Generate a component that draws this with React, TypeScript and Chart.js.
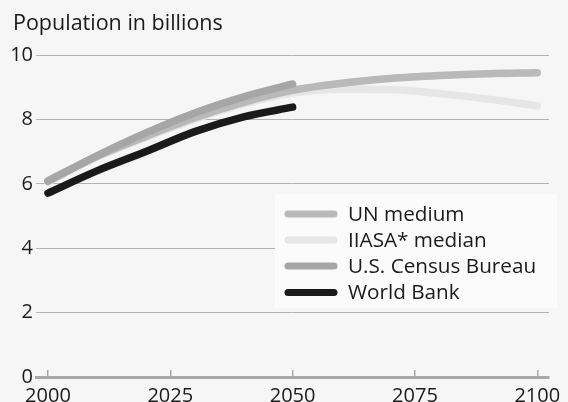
import React, { useEffect, useRef } from "react";
import { Chart, registerables } from "chart.js";

Chart.register(...registerables);

const titleText = "Population in billions";
const yearsLong = [2000, 2010, 2020, 2030, 2040, 2050, 2060, 2070, 2080, 2090, 2100];
const yearsShort = [2000, 2010, 2020, 2030, 2040, 2050];
const xTickValues = [2000, 2025, 2050, 2075, 2100];

const seriesNames = ["UN medium", "IIASA* median", "U.S. Census Bureau", "World Bank"];
const unMedium = [6.1, 6.85, 7.47, 8.05, 8.53, 8.9, 9.12, 9.27, 9.36, 9.42, 9.45];
const iiasaMedian = [6.06, 6.82, 7.44, 8.0, 8.48, 8.82, 8.94, 8.93, 8.8, 8.63, 8.42];
const usCensus = [6.08, 6.87, 7.58, 8.2, 8.7, 9.1];
const worldBank = [5.71, 6.4, 7.0, 7.62, 8.08, 8.38];

const seriesColors = ["#b9b9b9", "#e6e6e6", "#a6a6a6", "#1a1a1a"];

const FONT = "'Open Sans', 'DejaVu Sans', sans-serif";

const toPoints = (xs: number[], ys: number[]) => xs.map((x, i) => ({ x, y: ys[i] }));

export default function App() {
  const ref = useRef<HTMLCanvasElement | null>(null);

  useEffect(() => {
    if (!ref.current) return;

    const decorPlugin = {
      id: "decor",
      afterDraw(chart: any) {
        const ctx = chart.ctx as CanvasRenderingContext2D;
        ctx.save();
        // title
        ctx.fillStyle = "#1a1a1a";
        ctx.font = `21.5px ${FONT}`;
        ctx.textBaseline = "alphabetic";
        ctx.textAlign = "left";
        ctx.fillText(titleText, 13, 29.5);
        // legend
        ctx.fillStyle = "#fbfbfb";
        ctx.fillRect(275, 194, 282, 114);
        const rows = [214, 240, 266, 292.5];
        chart.data.datasets.forEach((ds: any, i: number) => {
          const y = rows[i];
          ctx.strokeStyle = ds.borderColor;
          ctx.lineWidth = 7;
          ctx.lineCap = "round";
          ctx.beginPath();
          ctx.moveTo(288, y);
          ctx.lineTo(334, y);
          ctx.stroke();
          ctx.fillStyle = "#1a1a1a";
          ctx.font = `20.7px ${FONT}`;
          ctx.textBaseline = "middle";
          ctx.fillText(ds.label, 348, y + 1);
        });
        ctx.restore();
      },
    };

    const mk = (i: number, xs: number[], ys: number[], order: number) => ({
      label: seriesNames[i],
      data: toPoints(xs, ys),
      borderColor: seriesColors[i],
      backgroundColor: seriesColors[i],
      borderWidth: 7.5,
      borderCapStyle: "round" as const,
      borderJoinStyle: "round" as const,
      pointRadius: 0,
      cubicInterpolationMode: "monotone" as const,
      fill: false,
      order,
    });

    const chart = new Chart(ref.current, {
      type: "line",
      data: {
        datasets: [
          mk(0, yearsLong, unMedium, 2),
          mk(1, yearsLong, iiasaMedian, 3),
          mk(2, yearsShort, usCensus, 1),
          mk(3, yearsShort, worldBank, 0),
        ],
      },
      options: {
        animation: false,
        responsive: false,
        layout: { padding: { top: 55, right: 19, left: 0, bottom: 0 } },
        plugins: {
          legend: { display: false },
          tooltip: { enabled: false },
          title: { display: false },
        },
        scales: {
          x: {
            type: "linear",
            min: 1997.55,
            max: 2102.4,
            afterBuildTicks: (scale: any) => {
              scale.ticks = xTickValues.map((v) => ({ value: v }));
            },
            afterFit: (scale: any) => {
              scale.height = 25;
              scale.paddingLeft = 0;
              scale.paddingRight = 0;
            },
            ticks: {
              font: { size: 20, family: FONT },
              color: "#1a1a1a",
              padding: 14,
              maxRotation: 0,
              autoSkip: false,
              callback: (v: any) => String(v),
            },
            grid: {
              drawOnChartArea: false,
              drawTicks: true,
              tickLength: -7,
              color: "#a9a9a9",
              lineWidth: 1.5,
            },
            border: { display: true, color: "#a9a9a9", width: 3 },
          },
          y: {
            min: 0,
            max: 10,
            afterFit: (scale: any) => {
              scale.width = 36;
            },
            ticks: {
              stepSize: 2,
              font: { size: 20, family: FONT },
              color: "#1a1a1a",
              padding: 3,
            },
            grid: { color: "#b3b3b3", lineWidth: 1, drawTicks: false },
            border: { display: false },
          },
        },
      },
      plugins: [decorPlugin],
    });

    return () => chart.destroy();
  }, []);

  return (
    <div
      style={{
        position: "absolute",
        left: 0,
        top: 0,
        width: 568,
        height: 402,
        background: "#f6f6f6",
      }}
    >
      <canvas ref={ref} width={568} height={402} />
    </div>
  );
}
